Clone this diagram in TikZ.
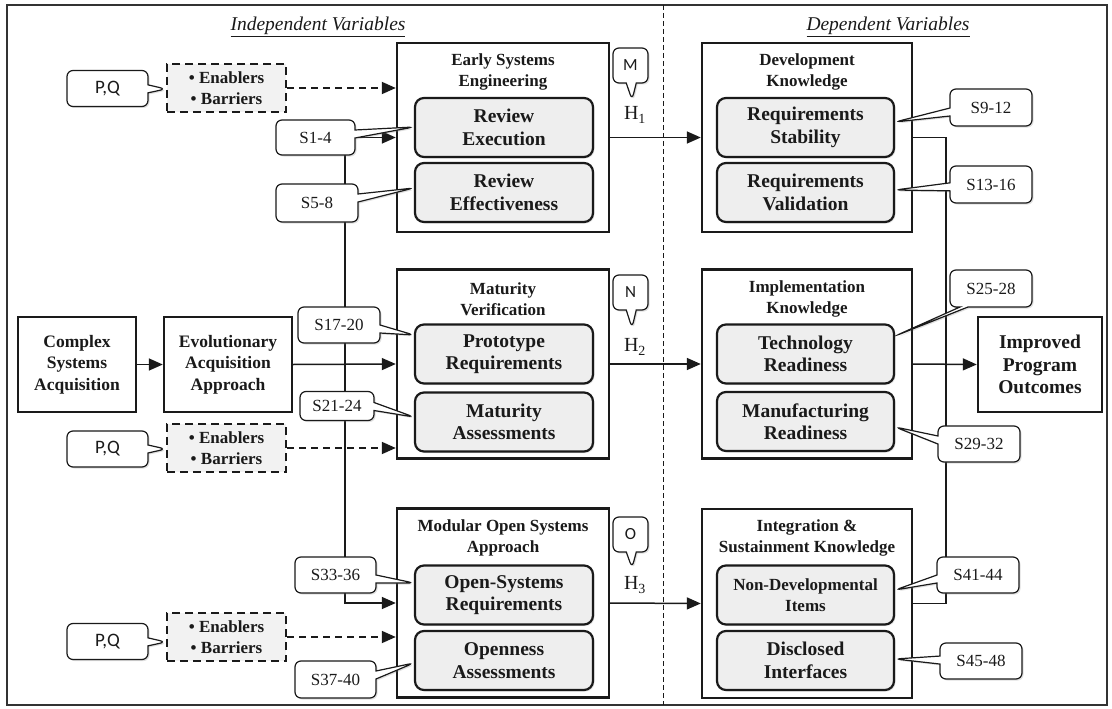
\documentclass[tikz,border=0pt]{standalone}
\usepackage{fontspec}
\setmainfont{Liberation Serif}
\newfontfamily\calfont{Carlito}
\usetikzlibrary{shapes.callouts,arrows.meta,calc,shadows}
\definecolor{ink}{HTML}{1A1A1A}
\definecolor{boxfill}{HTML}{EEEEEE}
\definecolor{enfill}{HTML}{F2F2F2}
\begin{document}
\begin{tikzpicture}[x=1pt,y=-1pt,
  every node/.style={text=ink},
  outerbox/.style={draw=ink,line width=2.4pt,fill=white,minimum width=212pt,minimum height=189pt,inner sep=0pt},
  titletxt/.style={align=center,font=\fontsize{17}{21}\selectfont\bfseries,inner sep=0pt},
  innerbox/.style={draw=ink,line width=2.2pt,rounded corners=9pt,fill=boxfill,minimum width=178pt,minimum height=59pt,inner sep=0pt,align=center,font=\fontsize{19.5}{22.5}\selectfont\bfseries,drop shadow={opacity=0.2,shadow xshift=1.5pt,shadow yshift=-1.5pt}},
  plainbox/.style={draw=ink,line width=2.4pt,fill=white,minimum height=95pt,inner sep=0pt,align=center,font=\fontsize{17.5}{21.5}\selectfont\bfseries},
  enbox/.style={draw=ink,line width=2.4pt,dash pattern=on 8pt off 5pt,fill=enfill,minimum width=119pt,minimum height=48pt,inner sep=0pt,align=center,font=\fontsize{17}{21}\selectfont\bfseries},
  scall/.style={rectangle callout,draw=ink,line width=1.2pt,rounded corners=6pt,fill=white,minimum width=81pt,minimum height=36pt,inner sep=0pt,callout pointer width=8pt,font=\fontsize{17}{20}\selectfont,drop shadow={opacity=0.25,shadow xshift=1.5pt,shadow yshift=-1.5pt}},
  pqcall/.style={scall,font=\fontsize{19}{22}\calfont},
  bubble/.style={rectangle callout,draw=ink,line width=1.2pt,rounded corners=6pt,fill=white,minimum width=35pt,minimum height=35pt,inner sep=0pt,callout pointer width=10pt,font=\fontsize{17}{20}\calfont,drop shadow={opacity=0.25,shadow xshift=1.5pt,shadow yshift=-1.5pt}},
  hlab/.style={font=\fontsize{20}{22}\selectfont,inner sep=0pt},
  hdr/.style={font=\fontsize{19.5}{22}\selectfont\itshape,inner sep=0pt},
  conn/.style={draw=ink,line width=1.5pt},
  arr/.style={conn,-{Triangle[length=14pt,width=12pt]}},
  darr/.style={draw=ink,line width=1.8pt,dash pattern=on 7pt off 5pt,-{Triangle[length=14pt,width=12pt]}}
]
\useasboundingbox (0,0) rectangle (1112,709);
\fill[white] (0,0) rectangle (1112,709);
\draw[line width=1.6pt,draw=black!80] (7,5) rectangle (1107,705);

% headers and divider
\node[hdr] (hind) at (318,27) {\underline{Independent Variables}};
\node[hdr] (hdep) at (888,27) {\underline{Dependent Variables}};
\coordinate (divtop) at (663,5);
\coordinate (divbot) at (663,705);
\draw[draw=ink,line width=1pt,dash pattern=on 5pt off 3pt] (divtop) -- (divbot);

% left column groups
\node[outerbox] (ese) at (503,137.5) {};
\node[titletxt] (eset) at (503,72) {Early Systems\\Engineering};
\node[innerbox] (rexe) at (504,127.5) {Review\\Execution};
\node[innerbox] (reff) at (504,192.5) {Review\\Effectiveness};

\node[outerbox] (mv) at (503,364) {};
\node[titletxt] (mvt) at (503,299) {Maturity\\Verification};
\node[innerbox] (proto) at (504,354) {Prototype\\Requirements};
\node[innerbox] (massm) at (504,422) {Maturity\\Assessments};

\node[outerbox] (mosa) at (503,603) {};
\node[titletxt] (mosat) at (503,538) {Modular Open Systems\\Approach};
\node[innerbox] (osr) at (504,595) {Open-Systems\\Requirements};
\node[innerbox] (oa) at (504,660.5) {Openness\\Assessments};

% right column groups
\node[outerbox,minimum width=210pt] (dk) at (807,137.5) {};
\node[titletxt] (dkt) at (807,72) {Development\\Knowledge};
\node[innerbox,minimum width=177pt] (rstab) at (805.5,127.5) {Requirements\\Stability};
\node[innerbox,minimum width=177pt] (rval) at (805.5,192.5) {Requirements\\Validation};

\node[outerbox,minimum width=210pt] (ik) at (807,364) {};
\node[titletxt] (ikt) at (807,299) {Implementation\\Knowledge};
\node[innerbox,minimum width=177pt] (tech) at (805.5,354) {Technology\\Readiness};
\node[innerbox,minimum width=177pt] (mfg) at (805.5,421.5) {Manufacturing\\Readiness};

\node[outerbox,minimum width=210pt] (isk) at (807,603.5) {};
\node[titletxt] (iskt) at (807,538) {Integration \&\\Sustainment Knowledge};
\node[innerbox,minimum width=177pt,font=\fontsize{17}{21}\selectfont\bfseries] (nondev) at (805.5,595) {Non-Developmental\\Items};
\node[innerbox,minimum width=177pt] (disc) at (805.5,660.5) {Disclosed\\Interfaces};

% left boxes
\node[plainbox,minimum width=118pt] (csa) at (77,364.5) {Complex\\Systems\\Acquisition};
\node[plainbox,minimum width=128pt] (eaa) at (228,364.5) {Evolutionary\\Acquisition\\Approach};
\node[plainbox,minimum width=124pt,font=\fontsize{19.5}{22.5}\selectfont\bfseries] (ipo) at (1040,364.5) {Improved\\Program\\Outcomes};

% enablers / barriers
\node[enbox] (en1) at (226.5,88) {\textbullet\ Enablers\\\textbullet\ Barriers};
\node[enbox] (en2) at (226.5,448) {\textbullet\ Enablers\\\textbullet\ Barriers};
\node[enbox] (en3) at (226.5,637) {\textbullet\ Enablers\\\textbullet\ Barriers};

% connectors
\draw[darr] (en1.east) -- (en1.east -| ese.west);
\draw[darr] (en2.east) -- (en2.east -| mv.west);
\draw[darr] (en3.east) -- (en3.east -| mosa.west);
\draw[arr] (csa.east) -- (eaa.west);
\draw[arr] (eaa.east) -- (mv.west);
\coordinate (lx) at (345,364.5);
\draw[arr] (lx) |- (ese.west);
\draw[arr] (lx) |- (mosa.west);
\draw[arr] (ese.east) -- (dk.west);
\draw[arr] (mv.east) -- (ik.west);
\draw[arr] (mosa.east) -- (isk.west);
\coordinate (rx) at (946,364.5);
\draw[conn] (dk.east) -| (rx) |- (isk.east);
\draw[arr] (ik.east) -- (ipo.west);

% hypothesis labels
\node[bubble,callout absolute pointer={(632,100)}] (bm) at (630.5,65.5) {M};
\node[bubble,callout absolute pointer={(632,328)}] (bn) at (630.5,292.5) {N};
\node[bubble,callout absolute pointer={(632,568)}] (bo) at (630.5,534.5) {O};
\node[hlab] (h1) at (635,115) {H\textsubscript{1}};
\node[hlab] (h2) at (635,347) {H\textsubscript{2}};
\node[hlab] (h3) at (635,585) {H\textsubscript{3}};

% P,Q callouts
\node[pqcall,callout absolute pointer={($(en1.west)+(0,1)$)}] (pq1) at (107.5,88.5) {P,Q};
\node[pqcall,callout absolute pointer={($(en2.west)+(0,1)$)}] (pq2) at (107.5,449) {P,Q};
\node[pqcall,callout absolute pointer={($(en3.west)+(0,5)$)}] (pq3) at (107.5,641.5) {P,Q};

% survey callouts, left
\node[scall,minimum width=79pt,minimum height=35pt,callout absolute pointer={($(rexe.west)+(0,-0.5)$)}] (s1) at (315.5,137.5) {S1-4};
\node[scall,minimum width=82pt,minimum height=38pt,callout absolute pointer={($(reff.west)+(0,-4.5)$)}] (s5) at (317,203) {S5-8};
\node[scall,minimum width=82pt,callout absolute pointer={($(proto.west)+(0,-19)$)}] (s17) at (339,325) {S17-20};
\node[scall,minimum width=74pt,minimum height=29pt,callout absolute pointer={($(massm.west)+(0,-5)$)}] (s21) at (337,406) {S21-24};
\node[scall,callout absolute pointer={($(osr.west)+(0,-12)$)}] (s33) at (335.5,575) {S33-36};
\node[scall,minimum height=37pt,callout absolute pointer={($(oa.west)+(0,2.5)$)}] (s37) at (335.5,679.5) {S37-40};

% survey callouts, right
\node[scall,minimum width=82pt,minimum height=37pt,callout absolute pointer={($(rstab.east)+(0,-5.5)$)}] (s9) at (991,107.5) {S9-12};
\node[scall,minimum width=82pt,minimum height=37pt,callout absolute pointer={($(rval.east)+(0,-2.5)$)}] (s13) at (991,184.5) {S13-16};
\node[scall,minimum width=82pt,minimum height=37pt,callout absolute pointer={($(tech.east)+(0,-18)$)}] (s25) at (991,288.5) {S25-28};
\node[scall,minimum width=82pt,callout absolute pointer={($(mfg.east)+(0,5.5)$)}] (s29) at (979,444) {S29-32};
\node[scall,minimum width=82pt,callout absolute pointer={($(nondev.east)+(0,-5)$)}] (s41) at (978,575) {S41-44};
\node[scall,minimum width=82pt,callout absolute pointer={($(disc.east)+(0,-1.5)$)}] (s45) at (981,661) {S45-48};
\end{tikzpicture}
\end{document}
